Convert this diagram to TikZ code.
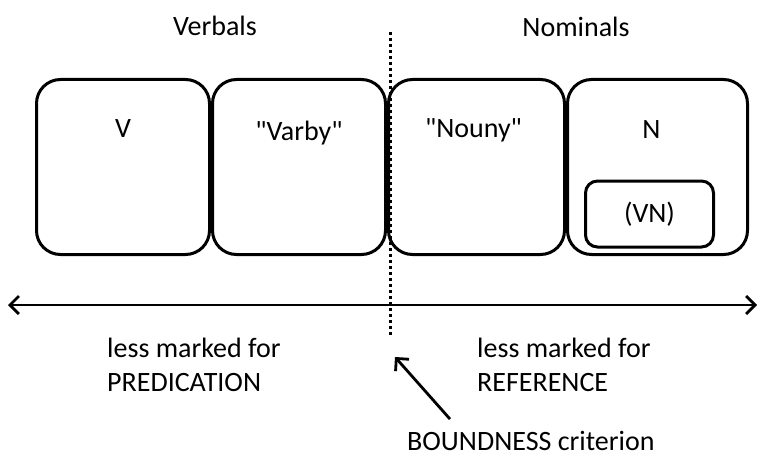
\documentclass[tikz,border=0pt]{standalone}
\usepackage{fontspec}
\setmainfont{Carlito}[Ligatures=TeXOff]
\usetikzlibrary{calc}
\usetikzlibrary{positioning}
\usetikzlibrary{arrows.meta}

\begin{document}
\begin{tikzpicture}[
		x=1pt,y=-1pt,
		>={Straight Barb[length=9pt,width=18pt,line width=2.8pt]},
		cat/.style={draw,line width=3pt,rounded corners=24pt,minimum height=175pt,inner sep=0pt},
		sub/.style={draw,line width=3pt,rounded corners=12pt,minimum width=128pt,minimum height=66pt},
		txt/.style={font=\fontsize{28}{34}\selectfont,inner sep=0pt},
		note/.style={font=\fontsize{28}{34}\selectfont,inner sep=0pt,align=left,anchor=west}
	]
		\useasboundingbox (0,0) rectangle (761,460);

		% word classes along the scale
		\node [cat,minimum width=173pt] (v) at (123,167) {};
		\node [cat,minimum width=173pt,right=0pt of v] (varby) {};
		\node [cat,minimum width=176pt,right=0pt of varby] (nouny) {};
		\node [cat,minimum width=180pt,right=0pt of nouny] (n) {};
		\node [sub] (vn) at ($(n.center)+(-8,47)$) {};

		\node [txt] (vtext) at ($(v.north)+(0,51)$) {V};
		\node [txt] (varbytext) at ($(varby.north)+(0,55)$) {"Varby"};
		\node [txt] (nounytext) at ($(nouny.north)+(-3,52)$) {"Nouny"};
		\node [txt] (ntext) at ($(n.north)+(-6,52)$) {N};
		\node [txt] (vntext) at (vn) {(VN)};

		\node [txt] (verbals) at (215,26) {Verbals};
		\node [txt] (nominals) at (576,27) {Nominals};

		% boundary and scale
		\coordinate (ctop) at (390,32);
		\coordinate (cbot) at (390,337);
		\draw [line width=3pt,dash pattern=on 3pt off 3pt] (ctop) -- (cbot);

		\coordinate (aleft) at (8,305);
		\coordinate (aright) at (757,305);
		\draw [<->,line width=2.8pt] (aleft) -- (aright);

		\node [note] (pred) at (107,365) {less marked for\\PREDICATION};
		\node [note] (ref) at (477,365) {less marked for\\REFERENCE};
		\node [note] (bound) at (407,441) {BOUNDNESS criterion};

		\coordinate (ptr) at (395,357);
		\draw [->,line width=2.8pt] (bound.north west) ++(43,-12) -- (ptr);
	\end{tikzpicture}
\end{document}
